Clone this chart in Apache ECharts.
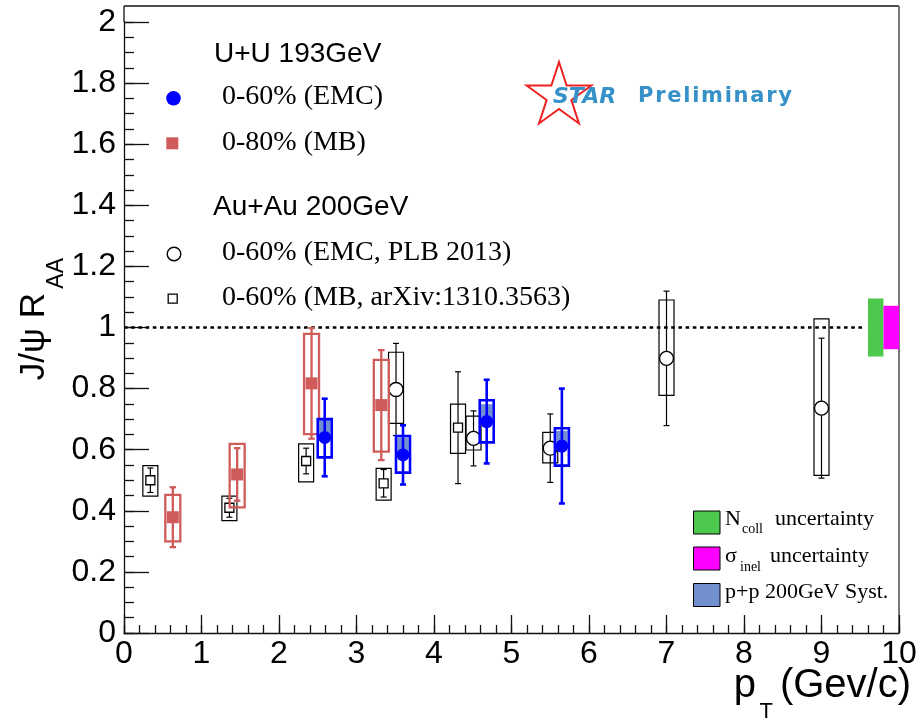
<!DOCTYPE html>
<html>
<head>
<meta charset="utf-8">
<script src="https://cdn.jsdelivr.net/npm/echarts@6/dist/echarts.min.js"></script>
<style>
  html, body { margin: 0; padding: 0; background: #fff; }
  #chart { width: 922px; height: 720px; }
</style>
</head>
<body>
<div id="chart"></div>
<script>
// ---------------- data ----------------
// U+U 193 GeV, 0-60% (EMC trigger)
const uuEmcPt    = [2.59, 3.60, 4.68, 5.65];
const uuEmcRaa   = [0.640, 0.583, 0.692, 0.612];
const uuEmcStat  = [0.127, 0.097, 0.137, 0.188];
const uuEmcSysUp = [0.060, 0.062, 0.070, 0.058];
const uuEmcSysDn = [0.065, 0.058, 0.068, 0.064];
const uuEmcPP    = [0.057, 0.057, 0.057, 0.050];   // p+p 200 GeV reference syst.

// U+U 193 GeV, 0-80% (MB)
const uuMbPt    = [0.63, 1.46, 2.42, 3.32];
const uuMbRaa   = [0.379, 0.519, 0.817, 0.746];
const uuMbStat  = [0.098, 0.086, 0.181, 0.180];
const uuMbSysUp = [0.073, 0.100, 0.162, 0.148];
const uuMbSysDn = [0.079, 0.108, 0.166, 0.152];

// Au+Au 200 GeV, 0-60% (EMC, PLB 2013)
const auEmcPt    = [3.51, 4.51, 5.50, 7.00, 9.00];
const auEmcRaa   = [0.797, 0.637, 0.605, 0.899, 0.736];
const auEmcStat  = [0.151, 0.090, 0.112, 0.220, 0.229];
const auEmcSysUp = [0.122, 0.073, 0.052, 0.191, 0.292];
const auEmcSysDn = [0.111, 0.038, 0.048, 0.121, 0.220];

// Au+Au 200 GeV, 0-60% (MB, arXiv:1310.3563)
const auMbPt    = [0.34, 1.36, 2.35, 3.35, 4.31];
const auMbRaa   = [0.500, 0.410, 0.563, 0.490, 0.672];
const auMbStat  = [0.040, 0.031, 0.042, 0.045, 0.183];
const auMbSysUp = [0.048, 0.038, 0.056, 0.049, 0.077];
const auMbSysDn = [0.052, 0.042, 0.068, 0.055, 0.084];

// global normalisation uncertainties drawn at R_AA = 1
const globalNames = ['Ncoll', 'sigma_inel'];
const globalX0    = [9.6, 9.8];
const globalX1    = [9.8, 10.0];
const globalErr   = [0.095, 0.071];

// reference line R_AA = 1
const unityLine = [[0, 1], [9.57, 1]];

// axis ticks (major step, minor step)
const xTicks = { min: 0, max: 10, step: 1, minor: 0.2 };
const yTicks = { min: 0, max: 2, step: 0.2, minor: 0.05 };

// ---------------- helpers ----------------
const SANS = '"Liberation Sans", Arial, Helvetica, sans-serif';
const SERIF = '"Liberation Serif", "Times New Roman", Times, serif';
const LOGO = '"DejaVu Sans", Verdana, sans-serif';

const measureCtx = document.createElement('canvas').getContext('2d');
function textWidth(str, font) {
  measureCtx.font = font;
  return measureCtx.measureText(str).width;
}

function buildRows(pt, raa, stat, up, dn, extra) {
  return pt.map((x, i) => [x, raa[i], stat[i], up[i], dn[i], extra ? extra[i] : 0]);
}

// draws stat. bar, syst. box and marker of one point
function pointRenderer(st) {
  return function (params, api) {
    const x = api.value(0), y = api.value(1);
    const c = api.coord([x, y]);
    const eTop = api.coord([x, y + api.value(2)])[1];
    const eBot = api.coord([x, y - api.value(2)])[1];
    const sTop = api.coord([x, y + api.value(3)])[1];
    const sBot = api.coord([x, y - api.value(4)])[1];
    const kids = [];
    if (st.ppFill) {
      const pTop = api.coord([x, y + api.value(5)])[1];
      kids.push({
        type: 'rect',
        shape: { x: c[0] - st.fillW / 2, y: pTop, width: st.fillW, height: c[1] - pTop },
        style: { fill: st.ppFill }
      });
    }
    kids.push({
      type: 'rect',
      shape: { x: c[0] - st.boxW / 2, y: sTop, width: st.boxW, height: sBot - sTop },
      style: { fill: null, stroke: st.color, lineWidth: st.boxLW }
    });
    kids.push({
      type: 'line',
      shape: { x1: c[0], y1: eTop, x2: c[0], y2: eBot },
      style: { stroke: st.color, lineWidth: st.barLW }
    });
    [eTop, eBot].forEach(yy => kids.push({
      type: 'line',
      shape: { x1: c[0] - st.capW / 2, y1: yy, x2: c[0] + st.capW / 2, y2: yy },
      style: { stroke: st.color, lineWidth: st.barLW }
    }));
    const m = st.marker;
    if (m.shape === 'circle') {
      kids.push({
        type: 'circle',
        shape: { cx: c[0], cy: c[1], r: m.size / 2 },
        style: { fill: m.fill, stroke: m.stroke, lineWidth: m.lw }
      });
    } else {
      kids.push({
        type: 'rect',
        shape: { x: c[0] - m.size / 2, y: c[1] - m.size / 2, width: m.size, height: m.size },
        style: { fill: m.fill, stroke: m.stroke, lineWidth: m.lw }
      });
    }
    return { type: 'group', children: kids };
  };
}

const RED = '#cf5b5b';
const BLUE = '#0000ff';
const PP_FILL = '#7290cf';
const NCOLL_COLOR = '#4dc94d';
const SIGMA_COLOR = '#ff00ff';
const STAR_BLUE = '#3791c9';

const styleAuMb = {
  color: '#000', boxW: 15, boxLW: 1.2, barLW: 1.2, capW: 6,
  marker: { shape: 'square', size: 9, fill: '#fff', stroke: '#000', lw: 1.3 }
};
const styleAuEmc = {
  color: '#000', boxW: 15, boxLW: 1.2, barLW: 1.2, capW: 6,
  marker: { shape: 'circle', size: 14, fill: '#fff', stroke: '#000', lw: 1.4 }
};
const styleUuMb = {
  color: RED, boxW: 15, boxLW: 2.3, barLW: 2.3, capW: 6.5,
  marker: { shape: 'square', size: 12, fill: RED, stroke: null, lw: 0 }
};
const styleUuEmc = {
  color: BLUE, boxW: 14, boxLW: 2.6, barLW: 2.6, capW: 6, ppFill: PP_FILL, fillW: 11.5,
  marker: { shape: 'circle', size: 13, fill: BLUE, stroke: null, lw: 0 }
};

// ---------------- chart ----------------
const chart = echarts.init(document.getElementById('chart'), null, { renderer: 'canvas' });

const tickLine = { color: '#111', width: 1.3 };

// main axes: line, labels and long ticks
const xMain = {
  type: 'value', position: 'bottom',
  min: xTicks.min, max: xTicks.max, interval: xTicks.step,
  splitLine: { show: false },
  axisLine: { show: true, onZero: false, lineStyle: tickLine },
  axisTick: { show: true, inside: true, length: 18, lineStyle: tickLine },
  axisLabel: { color: '#000', fontSize: 32, fontFamily: SANS, margin: 5 }
};
const yMain = {
  type: 'value', position: 'left',
  min: yTicks.min, max: yTicks.max, interval: yTicks.step,
  splitLine: { show: false },
  axisLine: { show: true, onZero: false, lineStyle: tickLine },
  axisTick: { show: true, inside: true, length: 25, lineStyle: tickLine },
  axisLabel: { color: '#000', fontSize: 32, fontFamily: SANS, margin: 8 }
};
// companion axes carrying only the short (minor) ticks
const xMinor = {
  type: 'value', position: 'bottom',
  min: xTicks.min, max: xTicks.max, interval: xTicks.minor,
  splitLine: { show: false }, axisLine: { show: false, onZero: false }, axisLabel: { show: false },
  axisTick: { show: true, inside: true, length: 8, lineStyle: tickLine }
};
const yMinor = {
  type: 'value', position: 'left',
  min: yTicks.min, max: yTicks.max, interval: yTicks.minor,
  splitLine: { show: false }, axisLine: { show: false, onZero: false }, axisLabel: { show: false },
  axisTick: { show: true, inside: true, length: 10, lineStyle: tickLine }
};

// legend + logo + titles as graphic elements
const graphics = [];

// frame completion
graphics.push(
  { type: 'line', shape: { x1: 124, y1: 6, x2: 899, y2: 6 }, style: { stroke: '#111', lineWidth: 1.3 } },
  { type: 'line', shape: { x1: 124, y1: 6, x2: 124, y2: 22 }, style: { stroke: '#111', lineWidth: 1.3 } },
  { type: 'line', shape: { x1: 899, y1: 6, x2: 899, y2: 633 }, style: { stroke: '#777', lineWidth: 2 } }
);

function legText(str, x, y, font, color) {
  graphics.push({ type: 'text', x: x, y: y, style: { text: str, font: font, fill: color || '#000', align: 'left', verticalAlign: 'middle' } });
}

// upper legend
legText('U+U 193GeV', 214, 54, '28px ' + SANS);
graphics.push({ type: 'circle', shape: { cx: 173.5, cy: 98.3, r: 7.3 }, style: { fill: BLUE } });
legText('0-60% (EMC)', 222, 96.5, '28px ' + SERIF);
graphics.push({ type: 'rect', shape: { x: 166.3, y: 137.3, width: 12, height: 12 }, style: { fill: RED } });
legText('0-80% (MB)', 222, 142.2, '28px ' + SERIF);
legText('Au+Au 200GeV', 213, 207, '28px ' + SANS);
graphics.push({ type: 'circle', shape: { cx: 174, cy: 254, r: 6.8 }, style: { fill: '#fff', stroke: '#000', lineWidth: 1.4 } });
legText('0-60% (EMC, PLB 2013)', 222, 252.2, '28px ' + SERIF);
graphics.push({ type: 'rect', shape: { x: 168.2, y: 294.2, width: 9, height: 9 }, style: { fill: '#fff', stroke: '#000', lineWidth: 1.3 } });
legText('0-60% (MB, arXiv:1310.3563)', 222, 297.2, '28px ' + SERIF);

// lower-right legend
const boxRows = [
  { color: NCOLL_COLOR, y: 511 },
  { color: SIGMA_COLOR, y: 547 },
  { color: PP_FILL, y: 583.5 }
];
boxRows.forEach(r => graphics.push({
  type: 'rect', shape: { x: 693.5, y: r.y, width: 26.5, height: 23 },
  style: { fill: r.color, stroke: '#000', lineWidth: 1 }
}));
legText('N', 725, 519.5, '22px ' + SERIF);
legText('coll', 742, 529, '14px ' + SERIF);
legText('uncertainty', 775, 519.5, '22px ' + SERIF);
legText('\u03c3', 725, 556.5, '22px ' + SERIF);
legText('inel', 740, 567, '14px ' + SERIF);
legText('uncertainty', 770, 556.5, '22px ' + SERIF);
legText('p+p 200GeV Syst.', 725, 592.5, '22px ' + SERIF);

// STAR Preliminary logo
(function () {
  const cx = 559, cy = 96, R = 34, r = 13;
  const pts = [];
  for (let i = 0; i < 10; i++) {
    const a = -Math.PI / 2 + i * Math.PI / 5;
    const rad = i % 2 ? r : R;
    pts.push([cx + rad * Math.cos(a), cy + rad * Math.sin(a)]);
  }
  graphics.push({ type: 'polygon', shape: { points: pts }, style: { fill: null, stroke: '#ee2222', lineWidth: 2 } });
  legText('STAR', 553, 97, 'italic bold 22px ' + LOGO, STAR_BLUE);
  const word = 'Preliminary';
  const font = 'bold 21px ' + LOGO;
  const total = 154;
  const natural = textWidth(word, font);
  const gap = Math.max(0, (total - natural) / (word.length - 1));
  let px = 638;
  for (const ch of word) {
    legText(ch, px, 96.5, font, STAR_BLUE);
    px += textWidth(ch, font) + gap;
  }
})();

// axis titles
graphics.push(
  { type: 'text', x: 911, y: 686, style: { text: '(Gev/c)', font: '40px ' + SANS, fill: '#000', align: 'right', verticalAlign: 'middle' } },
  { type: 'text', x: 773, y: 712, style: { text: 'T', font: '22px ' + SANS, fill: '#000', align: 'right', verticalAlign: 'middle' } },
  { type: 'text', x: 756, y: 686, style: { text: 'p', font: '40px ' + SANS, fill: '#000', align: 'right', verticalAlign: 'middle' } },
  { type: 'text', x: 34.5, y: 293, rotation: Math.PI / 2, style: { text: 'J/\u03c8 R', font: '35px ' + SANS, fill: '#000', align: 'right', verticalAlign: 'middle' } },
  { type: 'text', x: 57, y: 258, rotation: Math.PI / 2, style: { text: 'AA', font: '23px ' + SANS, fill: '#000', align: 'right', verticalAlign: 'middle' } }
);

const option = {
  backgroundColor: '#fff',
  animation: false,
  grid: { left: 124, right: 23, top: 22, bottom: 87, containLabel: false },
  xAxis: [xMain, xMinor],
  yAxis: [yMain, yMinor],
  graphic: graphics,
  series: [
    {
      name: 'unity',
      type: 'line',
      data: unityLine,
      symbol: 'none',
      silent: true,
      lineStyle: { color: '#000', width: 2.4, type: [3.6, 3.6] },
      z: 1
    },
    {
      name: 'global uncertainty',
      type: 'custom',
      data: globalX0.map((x0, i) => [x0, globalX1[i], globalErr[i], i]),
      encode: { x: [0, 1], y: 2 },
      renderItem: function (params, api) {
        const lt = api.coord([api.value(0), 1 + api.value(2)]);
        const rb = api.coord([api.value(1), 1 - api.value(2)]);
        const colors = [NCOLL_COLOR, SIGMA_COLOR];
        return {
          type: 'rect',
          shape: { x: lt[0], y: lt[1], width: rb[0] - lt[0], height: rb[1] - lt[1] },
          style: { fill: colors[api.value(3)] }
        };
      },
      z: 2
    },
    {
      name: 'Au+Au 0-60% (MB, arXiv:1310.3563)',
      type: 'custom',
      data: buildRows(auMbPt, auMbRaa, auMbStat, auMbSysUp, auMbSysDn),
      renderItem: pointRenderer(styleAuMb),
      z: 3
    },
    {
      name: 'Au+Au 0-60% (EMC, PLB 2013)',
      type: 'custom',
      data: buildRows(auEmcPt, auEmcRaa, auEmcStat, auEmcSysUp, auEmcSysDn),
      renderItem: pointRenderer(styleAuEmc),
      z: 4
    },
    {
      name: 'U+U 0-80% (MB)',
      type: 'custom',
      data: buildRows(uuMbPt, uuMbRaa, uuMbStat, uuMbSysUp, uuMbSysDn),
      renderItem: pointRenderer(styleUuMb),
      z: 5
    },
    {
      name: 'U+U 0-60% (EMC)',
      type: 'custom',
      data: buildRows(uuEmcPt, uuEmcRaa, uuEmcStat, uuEmcSysUp, uuEmcSysDn, uuEmcPP),
      renderItem: pointRenderer(styleUuEmc),
      z: 6
    }
  ]
};

chart.setOption(option);
</script>
</body>
</html>
